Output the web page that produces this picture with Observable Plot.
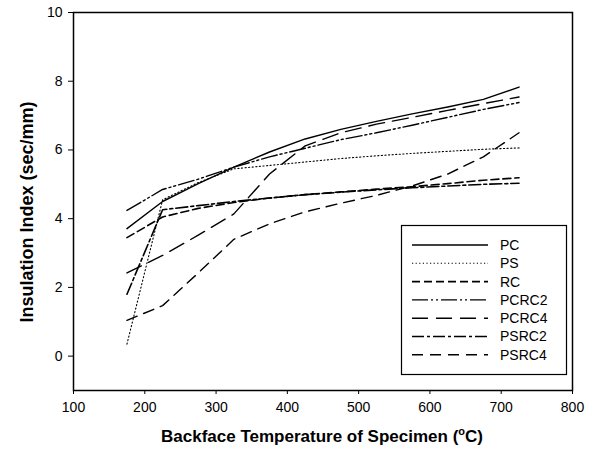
<!DOCTYPE html>
<html>
<head>
<meta charset="utf-8">
<script src="https://cdn.jsdelivr.net/npm/d3@7"></script>
<script src="https://cdn.jsdelivr.net/npm/@observablehq/plot@0.6"></script>
<style>
  body { margin: 0; background: #fff; }
  svg { font-family: "Liberation Sans", Arial, sans-serif; }
</style>
</head>
<body>
<div id="chart"></div>
<script>
const temps = [175, 225, 275, 325, 375, 425, 475, 525, 575, 625, 675, 725];
const seriesNames = ["PC", "PS", "RC", "PCRC2", "PCRC4", "PSRC2", "PSRC4"];
const PC    = [3.71, 4.50, 5.02, 5.50, 5.94, 6.32, 6.60, 6.83, 7.05, 7.25, 7.47, 7.83];
const PS    = [0.35, 4.55, 5.05, 5.45, 5.55, 5.65, 5.75, 5.83, 5.90, 5.96, 6.02, 6.06];
const RC    = [3.45, 4.05, 4.30, 4.47, 4.60, 4.70, 4.78, 4.86, 4.93, 5.02, 5.12, 5.19];
const PCRC2 = [4.24, 4.85, 5.15, 5.50, 5.80, 6.05, 6.30, 6.50, 6.72, 6.95, 7.18, 7.38];
const PCRC4 = [2.42, 2.93, 3.52, 4.14, 5.30, 6.12, 6.50, 6.75, 6.95, 7.15, 7.35, 7.54];
const PSRC2 = [1.80, 4.26, 4.38, 4.50, 4.60, 4.70, 4.77, 4.84, 4.90, 4.95, 5.00, 5.03];
const PSRC4 = [1.04, 1.47, 2.42, 3.40, 3.85, 4.20, 4.45, 4.68, 4.95, 5.30, 5.80, 6.50];
const xTicks = [100, 200, 300, 400, 500, 600, 700, 800];
const yTicks = [0, 2, 4, 6, 8, 10];

const valuesBy = {PC, PS, RC, PCRC2, PCRC4, PSRC2, PSRC4};
const dashes = {
  PC: null,
  PS: "1.2,2.4",
  RC: "8,4",
  PCRC2: "16,3,2,3,2,3",
  PCRC4: "16,8",
  PSRC2: "12,3,3,3",
  PSRC4: "11,7"
};
const widths = {PC: 1.4, PS: 1.1, RC: 1.6, PCRC2: 1.4, PCRC4: 1.4, PSRC2: 1.6, PSRC4: 1.4};

const rows = [];
for (const s of seriesNames) temps.forEach((t, i) => rows.push({series: s, t, v: valuesBy[s][i]}));

const lineMarks = seriesNames.map(s => Plot.line(rows.filter(d => d.series === s), {
  x: "t", y: "v", stroke: "#000", strokeWidth: widths[s],
  strokeDasharray: dashes[s] || undefined
}));

const chart = Plot.plot({
  width: 598, height: 449,
  marginLeft: 73, marginRight: 26, marginTop: 12, marginBottom: 59,
  style: {fontFamily: '"Liberation Sans", Arial, sans-serif', background: "#fff"},
  x: {domain: [100, 800]},
  y: {domain: [-1, 10]},
  marks: [
    Plot.axisX({ticks: xTicks, tickSize: 4, tickPadding: 8, fontSize: 14, label: null, tickFormat: d => String(d), stroke: "#000", color: "#000"}),
    Plot.axisY({ticks: yTicks, tickSize: 5, tickPadding: 6, fontSize: 14, label: null, tickFormat: d => String(d), stroke: "#000", color: "#000"}),
    ...lineMarks,
    Plot.frame({stroke: "#000", strokeWidth: 1.5})
  ]
});
document.getElementById("chart").appendChild(chart);

const svg = d3.select(chart);
// axis titles
svg.append("text")
  .attr("transform", "translate(28,212) rotate(-90)")
  .attr("text-anchor", "middle").attr("dominant-baseline", "middle")
  .attr("font-size", 18).attr("font-weight", "bold").attr("fill", "#000")
  .text("Insulation Index (sec/mm)");
const xt = svg.append("text")
  .attr("x", 322).attr("y", 442)
  .attr("text-anchor", "middle")
  .attr("font-size", 17).attr("font-weight", "bold").attr("fill", "#000");
xt.append("tspan").text("Backface Temperature of Specimen (");
xt.append("tspan").attr("font-size", 11).attr("dy", -7).text("o");
xt.append("tspan").attr("dy", 7).text("C)");

// legend
const lg = svg.append("g");
lg.append("rect").attr("x", 401.5).attr("y", 225.5).attr("width", 165).attr("height", 149)
  .attr("fill", "#fff").attr("stroke", "#000").attr("stroke-width", 1.2);
seriesNames.forEach((s, i) => {
  const y = 245 + i * 18.3;
  lg.append("line").attr("x1", 412).attr("x2", 488).attr("y1", y).attr("y2", y)
    .attr("stroke", "#000").attr("stroke-width", widths[s])
    .attr("stroke-dasharray", dashes[s]);
  lg.append("text").attr("x", 500).attr("y", y).attr("dy", "0.35em")
    .attr("text-anchor", "start")
    .attr("font-size", 14).attr("fill", "#000").text(s);
});
</script>
</body>
</html>
